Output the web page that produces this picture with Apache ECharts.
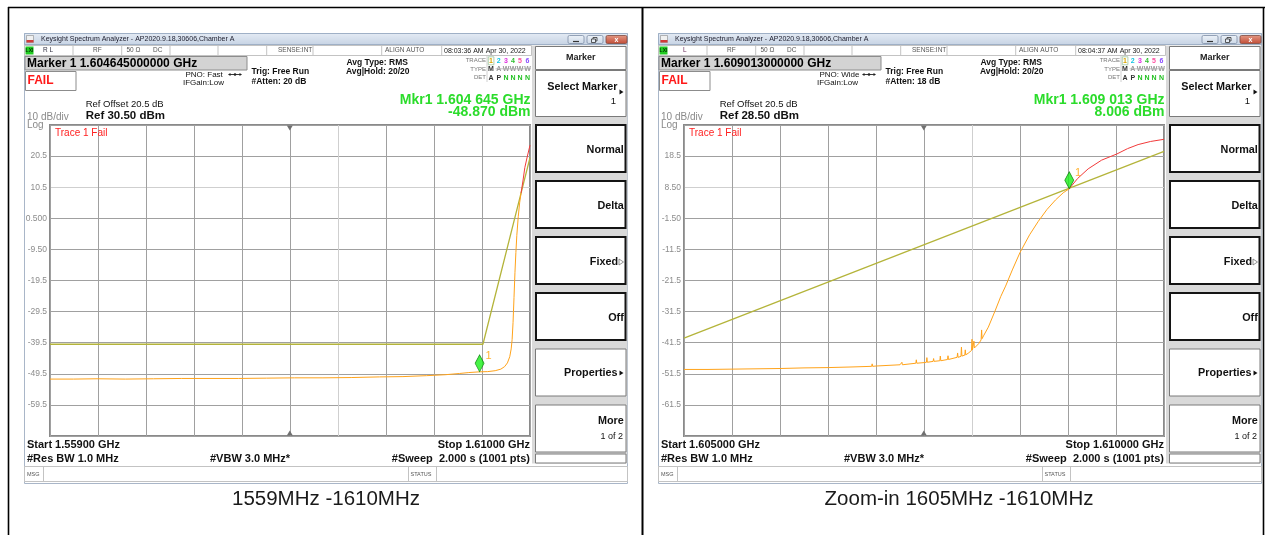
<!DOCTYPE html>
<html><head><meta charset="utf-8">
<script src="https://cdn.jsdelivr.net/npm/echarts@6/dist/echarts.min.js"></script>
<style>html,body{margin:0;padding:0;background:#fff}#c{width:1265px;height:535px}</style>
</head><body><div id="c"></div>
<script>
// ---------------- DATA ----------------
// Left screen: 1559 MHz - 1610 MHz
const leftSpan = [1559, 1610];
const leftLevelRange = [-69.5, 30.5];
const leftYTicks = ['20.5', '10.5', '0.500', '-9.50', '-19.5', '-29.5', '-39.5', '-49.5', '-59.5'];
const leftTraceFreq = [1559.0, 1561.5, 1564.0, 1567.0, 1570.0, 1573.0, 1576.0, 1579.0, 1582.0, 1585.0, 1588.0, 1591.0, 1594.0, 1596.5, 1599.0, 1601.0, 1602.5, 1603.5, 1604.645, 1605.5, 1606.3, 1606.9, 1607.3, 1607.6, 1607.85, 1608.0, 1608.1, 1608.2, 1608.3, 1608.4, 1608.5, 1608.6, 1608.75, 1608.9, 1609.05];
const leftTraceLevel = [-51.2, -51.2, -51.1, -51.2, -51.1, -51.0, -51.0, -51.0, -50.9, -50.8, -50.8, -50.7, -50.5, -50.4, -50.1, -49.8, -49.4, -49.1, -48.87, -48.8, -48.5, -48.0, -47.2, -46.0, -44.0, -41.5, -38.5, -33.0, -25.0, -17.0, -10.5, -5.0, 1.0, 5.5, 8.6];
const leftFailFreq = [1609.05, 1609.25, 1609.45, 1609.7, 1610.0];
const leftFailLevel = [8.6, 12.5, 16.8, 20.2, 24.0];
const leftLimitFreq = [1559, 1605, 1610];
const leftLimitLevel = [-40, -40, 20];
const leftMarker = [1604.645, -48.87];

// Right screen: 1605 MHz - 1610 MHz
const rightSpan = [1605, 1610];
const rightLevelRange = [-71.5, 28.5];
const rightYTicks = ['18.5', '8.50', '-1.50', '-11.5', '-21.5', '-31.5', '-41.5', '-51.5', '-61.5'];
const rightTraceFreq = [1605.00, 1605.25, 1605.50, 1605.75, 1606.00, 1606.25, 1606.50, 1606.75, 1606.955, 1606.96, 1606.965, 1607.00, 1607.25, 1607.265, 1607.27, 1607.275, 1607.415, 1607.42, 1607.425, 1607.50, 1607.525, 1607.53, 1607.535, 1607.595, 1607.60, 1607.605, 1607.665, 1607.67, 1607.675, 1607.745, 1607.75, 1607.755, 1607.845, 1607.85, 1607.855, 1607.885, 1607.89, 1607.895, 1607.925, 1607.93, 1607.935, 1607.96, 1607.995, 1608.00, 1608.005, 1608.015, 1608.02, 1608.025, 1608.07, 1608.095, 1608.10, 1608.105, 1608.12, 1608.17, 1608.24, 1608.30, 1608.35, 1608.42, 1608.50, 1608.60, 1608.69, 1608.78, 1608.87, 1608.95, 1609.013];
const rightTraceLevel = [-50.1, -50.1, -50.0, -49.9, -49.8, -49.6, -49.5, -49.3, -49.1, -48.3, -49.1, -49.0, -48.6, -48.6, -47.8, -48.6, -48.1, -47.0, -48.1, -47.9, -47.8, -46.3, -47.8, -47.5, -46.6, -47.5, -47.3, -45.8, -47.3, -46.9, -45.7, -46.9, -46.2, -44.8, -46.2, -45.9, -42.9, -45.8, -45.5, -43.8, -45.4, -44.9, -44.0, -40.4, -43.8, -43.5, -41.0, -43.2, -41.8, -40.6, -37.4, -40.2, -39.3, -36.5, -31.3, -26.6, -23.3, -18.1, -12.5, -6.8, -2.5, 1.3, 4.4, 6.7, 8.006];
const rightFailFreq = [1609.013, 1609.10, 1609.21, 1609.35, 1609.51, 1609.62, 1609.73, 1609.86, 1610.0];
const rightFailLevel = [8.006, 11.3, 14.4, 17.2, 19.2, 20.9, 22.2, 23.2, 23.9];
const rightLimitFreq = [1605, 1610];
const rightLimitLevel = [-40, 20];
const rightMarker = [1609.013, 8.006];

// ---------------- helpers ----------------
const zip = (a, b) => a.map((v, i) => [v, b[i]]);
const FONT = '"Liberation Sans", Arial, Helvetica, sans-serif';
function T(x, y, text, size, color, o) {
  o = o || {};
  return { type: 'text', silent: true, z: o.z != null ? o.z : 50,
    style: { legacy: false, x: x, y: y, text: text,
      font: (o.bold ? 'bold ' : '') + size + 'px ' + FONT,
      fill: color, align: o.align || 'left', verticalAlign: o.va || 'middle' } };
}
function R(x, y, w, h, fill, stroke, lw, z) {
  return { type: 'rect', silent: true, z: z != null ? z : 5, shape: { x: x, y: y, width: w, height: h },
    style: { fill: fill || 'none', stroke: stroke || 'none', lineWidth: lw || 1 } };
}
function L(x1, y1, x2, y2, color, lw, z) {
  return { type: 'line', silent: true, z: z != null ? z : 6, shape: { x1: x1, y1: y1, x2: x2, y2: y2 },
    style: { stroke: color, lineWidth: lw || 1 } };
}
function P(points, fill, stroke, z) {
  return { type: 'polygon', silent: true, z: z != null ? z : 60, shape: { points: points },
    style: { fill: fill || 'none', stroke: stroke || 'none', lineWidth: 0.8 } };
}

const leftText = { rl: 'R L', rlx: 43, rlColor: '#333344', marker: 'Marker 1 1.604645000000 GHz', pno: 'PNO: Fast', atten: '#Atten: 20 dB',
  time: '08:03:36 AM Apr 30, 2022', mkrF: 'Mkr1 1.604 645 GHz', mkrV: '-48.870 dBm', ref: 'Ref 30.50 dBm',
  start: 'Start 1.55900 GHz', stop: 'Stop 1.61000 GHz' };
const rightText = { rl: 'L', rlx: 49, rlColor: '#6a2a5a', marker: 'Marker 1 1.609013000000 GHz', pno: 'PNO: Wide', atten: '#Atten: 18 dB',
  time: '08:04:37 AM Apr 30, 2022', mkrF: 'Mkr1 1.609 013 GHz', mkrV: '8.006 dBm', ref: 'Ref 28.50 dBm',
  start: 'Start 1.605000 GHz', stop: 'Stop 1.610000 GHz' };

function panel(dx, S) {
  const g = [];
  // window
  g.push(R(dx + 24.5, 33.5, 603, 450, '#ffffff', '#a9b6c8', 1, -10));
  g.push({ type: 'rect', silent: true, z: -9, shape: { x: dx + 24.5, y: 33.5, width: 603, height: 11 },
    style: { fill: { type: 'linear', x: 0, y: 0, x2: 0, y2: 1, colorStops: [{ offset: 0, color: '#e4ebf4' }, { offset: 1, color: '#c6d3e4' }] }, stroke: '#9fb0c6', lineWidth: 1 } });
  g.push(R(dx + 26.5, 35.5, 7, 7, '#f0f0f0', '#8a8a8a', 0.6, 6));
  g.push(R(dx + 26.5, 40, 7, 2.5, '#d23a3a', null, 1, 7));
  g.push(T(dx + 41, 39, 'Keysight Spectrum Analyzer - AP2020.9.18,30606,Chamber A', 7, '#1b1b2b'));
  // window buttons
  const btnFill = { type: 'linear', x: 0, y: 0, x2: 0, y2: 1, colorStops: [{ offset: 0, color: '#eef3f9' }, { offset: 1, color: '#cbd7e6' }] };
  g.push({ type: 'rect', silent: true, z: 6, shape: { x: dx + 568, y: 35.5, width: 16, height: 8, r: 1.5 }, style: { fill: btnFill, stroke: '#7d8ea6', lineWidth: 0.8 } });
  g.push({ type: 'rect', silent: true, z: 6, shape: { x: dx + 587, y: 35.5, width: 16, height: 8, r: 1.5 }, style: { fill: btnFill, stroke: '#7d8ea6', lineWidth: 0.8 } });
  g.push({ type: 'rect', silent: true, z: 6, shape: { x: dx + 606, y: 35.5, width: 21, height: 8, r: 1.5 }, style: { fill: { type: 'linear', x: 0, y: 0, x2: 0, y2: 1, colorStops: [{ offset: 0, color: '#e49a86' }, { offset: 1, color: '#c14a34' }] }, stroke: '#7d4a40', lineWidth: 0.8 } });
  g.push(L(dx + 573, 41.5, dx + 579, 41.5, '#333', 1.2, 7));
  g.push(R(dx + 593, 37.5, 4, 3.5, null, '#333', 0.8, 7));
  g.push(R(dx + 591.5, 39, 4, 3.5, '#e4ebf4', '#333', 0.8, 8));
  g.push(T(dx + 616.5, 39.6, 'x', 7, '#ffffff', { bold: true, align: 'center' }));
  // status row
  g.push(R(dx + 24.5, 45.5, 507, 10, '#ffffff', '#c3c3c3', 1, 0));
  [73, 121.7, 170, 218, 266.7, 313, 381.7, 441.7].forEach(x => g.push(L(dx + x, 45.5, dx + x, 55.5, '#c3c3c3', 1)));
  g.push(R(dx + 25.5, 46.5, 8, 8, '#22cc22', null, 1, 6));
  g.push(T(dx + 29.5, 50.7, 'LXI', 5, '#003300', { bold: true, align: 'center' }));
  g.push(T(dx + S.rlx, 50.7, S.rl, 6.5, S.rlColor));
  g.push(T(dx + 93, 50.7, 'RF', 6.5, '#555'));
  g.push(T(dx + 126.5, 50.7, '50 Ω', 6.5, '#555'));
  g.push(T(dx + 153, 50.7, 'DC', 6.5, '#555'));
  g.push(T(dx + 278, 50.7, 'SENSE:INT', 6.5, '#555'));
  g.push(T(dx + 385, 50.7, 'ALIGN AUTO', 6.5, '#555'));
  g.push(T(dx + 444, 50.7, S.time, 7, '#1a1a1a'));
  // marker readout box
  g.push(R(dx + 25, 56.5, 222, 13.5, '#d3d3d3', '#8c8c8c', 1, 5));
  g.push(T(dx + 27, 63.6, S.marker, 12, '#000', { bold: true }));
  g.push(R(dx + 25.5, 71.5, 50.5, 19, '#ffffff', '#8c8c8c', 1, 5));
  g.push(T(dx + 27.5, 80.7, 'FAIL', 12, '#ff1818', { bold: true }));
  g.push(T(dx + 185.5, 74.6, S.pno, 8, '#111'));
  g.push(T(dx + 183, 83, 'IFGain:Low', 8, '#111'));
  g.push(L(dx + 229, 74.5, dx + 241, 74.5, '#222', 0.9));
  g.push(P([[dx + 228, 74.5], [dx + 230.5, 73], [dx + 230.5, 76]], '#222', null, 7));
  g.push(P([[dx + 242, 74.5], [dx + 239.5, 73], [dx + 239.5, 76]], '#222', null, 7));
  g.push({ type: 'circle', silent: true, z: 7, shape: { cx: dx + 235, cy: 74.5, r: 1.3 }, style: { fill: '#222' } });
  g.push(T(dx + 251.5, 72, 'Trig: Free Run', 8.5, '#111', { bold: true }));
  g.push(T(dx + 251.5, 82, S.atten, 8.5, '#111', { bold: true }));
  g.push(T(dx + 346.5, 62.5, 'Avg Type: RMS', 8.5, '#111', { bold: true }));
  g.push(T(dx + 346, 72, 'Avg|Hold: 20/20', 8.5, '#111', { bold: true }));
  // trace table
  g.push(L(dx + 487, 56, dx + 487, 82, '#d0d0d0', 1));
  g.push(T(dx + 486, 60.8, 'TRACE', 6, '#777', { align: 'right' }));
  g.push(T(dx + 486, 69.3, 'TYPE', 6, '#777', { align: 'right' }));
  g.push(T(dx + 486, 77.8, 'DET', 6, '#777', { align: 'right' }));
  const cols = [491, 498.8, 506, 513, 520, 527.5];
  const r1 = ['1', '2', '3', '4', '5', '6'], c1 = ['#d9a400', '#10c4e4', '#e030e0', '#2fbf2f', '#ff4fa0', '#8a4dff'];
  const r2 = ['M', 'A', 'W', 'W', 'W', 'W'], c2 = ['#333', '#9a9a9a', '#9a9a9a', '#9a9a9a', '#9a9a9a', '#9a9a9a'];
  const r3 = ['A', 'P', 'N', 'N', 'N', 'N'], c3 = ['#333', '#333', '#22c022', '#22c022', '#22c022', '#22c022'];
  g.push(R(dx + 488.3, 56.8, 5.6, 8, null, '#8fbf8f', 0.7, 6));
  cols.forEach((x, i) => {
    g.push(T(dx + x, 60.9, r1[i], 7, c1[i], { bold: true, align: 'center' }));
    g.push(T(dx + x, 69.4, r2[i], 7, c2[i], { bold: true, align: 'center' }));
    g.push(T(dx + x, 77.9, r3[i], 7, c3[i], { bold: true, align: 'center' }));
  });
  g.push(L(dx + 495.5, 68.8, dx + 531, 68.8, '#aaaaaa', 0.7, 60));
  // marker readout
  g.push(T(dx + 530.5, 100, S.mkrF, 14, '#2bdc2b', { bold: true, align: 'right' }));
  g.push(T(dx + 530.5, 112, S.mkrV, 14, '#2bdc2b', { bold: true, align: 'right' }));
  g.push(T(dx + 85.7, 104.2, 'Ref Offset 20.5 dB', 9.5, '#111'));
  g.push(T(dx + 85.7, 115.8, S.ref, 11.5, '#111', { bold: true }));
  g.push(T(dx + 27, 117.4, '10 dB/div', 10, '#8a8a8a'));
  g.push(T(dx + 27, 124.8, 'Log', 10, '#8a8a8a'));
  // overlays on plot
  g.push(T(dx + 55, 133.6, 'Trace 1 Fail', 10, '#ff2020', { z: 100 }));
  const cx = dx + 289.8;
  g.push(P([[cx - 3, 125.5], [cx + 3, 125.5], [cx, 130.5]], '#707070', null, 100));
  g.push(P([[cx - 3, 435.5], [cx + 3, 435.5], [cx, 430.5]], '#707070', null, 100));
  // bottom annotations
  g.push(T(dx + 27, 444.6, S.start, 11, '#111', { bold: true }));
  g.push(T(dx + 530, 444.6, S.stop, 11, '#111', { bold: true, align: 'right' }));
  g.push(T(dx + 27, 458.6, '#Res BW 1.0 MHz', 11, '#111', { bold: true }));
  g.push(T(dx + 210, 458.6, '#VBW 3.0 MHz*', 11, '#111', { bold: true }));
  g.push(T(dx + 530, 458.6, '#Sweep  2.000 s (1001 pts)', 11, '#111', { bold: true, align: 'right' }));
  // msg row
  g.push(R(dx + 24.5, 466.5, 603, 15, '#ffffff', '#c3c3c3', 1, 4));
  g.push(L(dx + 43.5, 466.5, dx + 43.5, 481.5, '#c3c3c3', 1));
  g.push(L(dx + 408.5, 466.5, dx + 408.5, 481.5, '#c3c3c3', 1));
  g.push(L(dx + 436.5, 466.5, dx + 436.5, 481.5, '#c3c3c3', 1));
  g.push(T(dx + 27, 474, 'MSG', 5.5, '#555'));
  g.push(T(dx + 410.5, 474, 'STATUS', 5.5, '#555'));
  // softkey panel
  g.push(R(dx + 532, 45.5, 95.5, 418, '#d9d9d9', null, 1, 1));
  g.push(R(dx + 535.5, 46.5, 90.5, 23, '#ffffff', '#7a7a7a', 1, 3));
  g.push(T(dx + 580.8, 57.8, 'Marker', 9, '#222', { bold: true, align: 'center' }));
  g.push(R(dx + 535.5, 70.5, 90.5, 46, '#ffffff', '#7a7a7a', 1, 3));
  g.push(T(dx + 617.5, 86.8, 'Select Marker', 10.8, '#111', { bold: true, align: 'right' }));
  g.push(P([[dx + 619.5, 89.5], [dx + 623.5, 92], [dx + 619.5, 94.5]], '#111', null, 10));
  g.push(T(dx + 616, 101.8, '1', 9.5, '#111', { align: 'right' }));
  const keys = ['Normal', 'Delta', 'Fixed', 'Off'];
  keys.forEach((k, i) => {
    const top = 125 + 56 * i;
    g.push(R(dx + 536, top, 89.5, 47, '#ffffff', '#141414', 2, 3));
    if (k === 'Fixed') {
      g.push(T(dx + 618, top + 25, k, 10.8, '#111', { bold: true, align: 'right' }));
      g.push(P([[dx + 619, top + 22], [dx + 623.5, top + 25], [dx + 619, top + 28]], null, '#777', 10));
    } else {
      g.push(T(dx + 623.8, top + 25, k, 10.8, '#111', { bold: true, align: 'right' }));
    }
  });
  g.push(R(dx + 535.5, 349, 90.5, 47, '#ffffff', '#7a7a7a', 1, 3));
  g.push(T(dx + 617.5, 373.5, 'Properties', 10.8, '#111', { bold: true, align: 'right' }));
  g.push(P([[dx + 619.5, 370.5], [dx + 623.5, 373], [dx + 619.5, 375.5]], '#111', null, 10));
  g.push(R(dx + 535.5, 405, 90.5, 47, '#ffffff', '#7a7a7a', 1, 3));
  g.push(T(dx + 623.8, 421, 'More', 10.8, '#111', { bold: true, align: 'right' }));
  g.push(T(dx + 623, 437, '1 of 2', 9, '#111', { align: 'right' }));
  g.push(R(dx + 535.5, 454, 90.5, 9, '#ffffff', '#7a7a7a', 1, 3));
  return g;
}

const graphics = [].concat(panel(0, leftText), panel(634, rightText));
// outer table frame
graphics.push(L(8, 7.5, 1265, 7.5, '#000', 1.6, 200));
graphics.push(L(8.5, 7, 8.5, 535, '#000', 1.6, 200));
graphics.push(L(642.5, 7, 642.5, 535, '#000', 2, 200));
graphics.push(L(1263.5, 7, 1263.5, 535, '#000', 1.6, 200));
// captions
graphics.push(T(326, 499.5, '1559MHz -1610MHz', 20.5, '#1a1a1a', { align: 'center' }));
graphics.push(T(959, 499.5, 'Zoom-in 1605MHz -1610MHz', 20.5, '#1a1a1a', { align: 'center' }));

// ---------------- chart ----------------
const gridColorsX = ['#a0a0a0', '#a0a0a0', '#a0a0a0', '#a0a0a0', '#a0a0a0', '#a0a0a0', '#cfcfcf', '#a0a0a0', '#a0a0a0', '#a0a0a0', '#a0a0a0'];
const gridColorsY = ['#a0a0a0', '#a0a0a0', '#a0a0a0', '#a0a0a0', '#a0a0a0', '#a0a0a0', '#a0a0a0', '#a0a0a0', '#cfcfcf', '#a0a0a0', '#a0a0a0'];
function divX(gi) {
  return { gridIndex: gi, type: 'value', min: 0, max: 10, interval: 1, axisLabel: { show: false }, axisTick: { show: false }, axisLine: { show: false },
    splitLine: { show: true, lineStyle: { color: gridColorsX, width: 1 } } };
}
function divY(gi, labels) {
  return { gridIndex: gi, type: 'value', min: 0, max: 10, interval: 1, axisTick: { show: false }, axisLine: { show: false },
    axisLabel: { show: true, margin: 3, color: '#8c8c8c', fontSize: 8.5, fontFamily: FONT,
      formatter: v => (v >= 1 && v <= 9) ? labels[9 - v] : '' },
    splitLine: { show: true, lineStyle: { color: gridColorsY, width: 1 } } };
}
function dataX(gi, span) { return { gridIndex: gi, type: 'value', min: span[0], max: span[1], show: false, splitLine: { show: false } }; }
function dataY(gi, rng) { return { gridIndex: gi, type: 'value', min: rng[0], max: rng[1], show: false, splitLine: { show: false } }; }

const markerSymbol = 'path://M5,0 L10,10 L5,20 L0,10 Z';
function seriesFor(xi, yi, limit, trace, fail, marker) {
  return [
    { type: 'line', xAxisIndex: xi, yAxisIndex: yi, data: limit, symbol: 'none', silent: true, z: 3,
      lineStyle: { color: '#b4b43a', width: 1.3 } },
    { type: 'line', xAxisIndex: xi, yAxisIndex: yi, data: trace, symbol: 'none', silent: true, z: 4,
      lineStyle: { color: '#ffa31a', width: 1 } },
    { type: 'line', xAxisIndex: xi, yAxisIndex: yi, data: fail, symbol: 'none', silent: true, z: 4,
      lineStyle: { color: '#f23a3a', width: 1 } },
    { type: 'scatter', xAxisIndex: xi, yAxisIndex: yi, data: [marker], symbol: markerSymbol, symbolSize: [9, 17],
      symbolOffset: [0, '-50%'], silent: true, z: 6,
      itemStyle: { color: '#19f019', borderColor: '#0a7a0a', borderWidth: 0.8 },
      label: { show: true, formatter: '1', position: 'right', distance: 1, offset: [0, -7], color: '#ffa000', fontSize: 11, fontFamily: FONT } }
  ];
}

const chart = echarts.init(document.getElementById('c'), null, { renderer: 'canvas', width: 1265, height: 535 });
chart.setOption({
  animation: false,
  backgroundColor: '#ffffff',
  grid: [
    { left: 50, top: 125, width: 480, height: 311, show: true, borderColor: '#8a8a8a', borderWidth: 2, backgroundColor: 'transparent', outerBoundsMode: 'none' },
    { left: 684, top: 125, width: 480, height: 311, show: true, borderColor: '#8a8a8a', borderWidth: 2, backgroundColor: 'transparent', outerBoundsMode: 'none' }
  ],
  xAxis: [divX(0), dataX(0, leftSpan), divX(1), dataX(1, rightSpan)],
  yAxis: [divY(0, leftYTicks), dataY(0, leftLevelRange), divY(1, rightYTicks), dataY(1, rightLevelRange)],
  series: [].concat(
    seriesFor(1, 1, zip(leftLimitFreq, leftLimitLevel), zip(leftTraceFreq, leftTraceLevel), zip(leftFailFreq, leftFailLevel), leftMarker),
    seriesFor(3, 3, zip(rightLimitFreq, rightLimitLevel), zip(rightTraceFreq, rightTraceLevel), zip(rightFailFreq, rightFailLevel), rightMarker)
  ),
  graphic: { elements: graphics }
});
</script>
</body></html>
